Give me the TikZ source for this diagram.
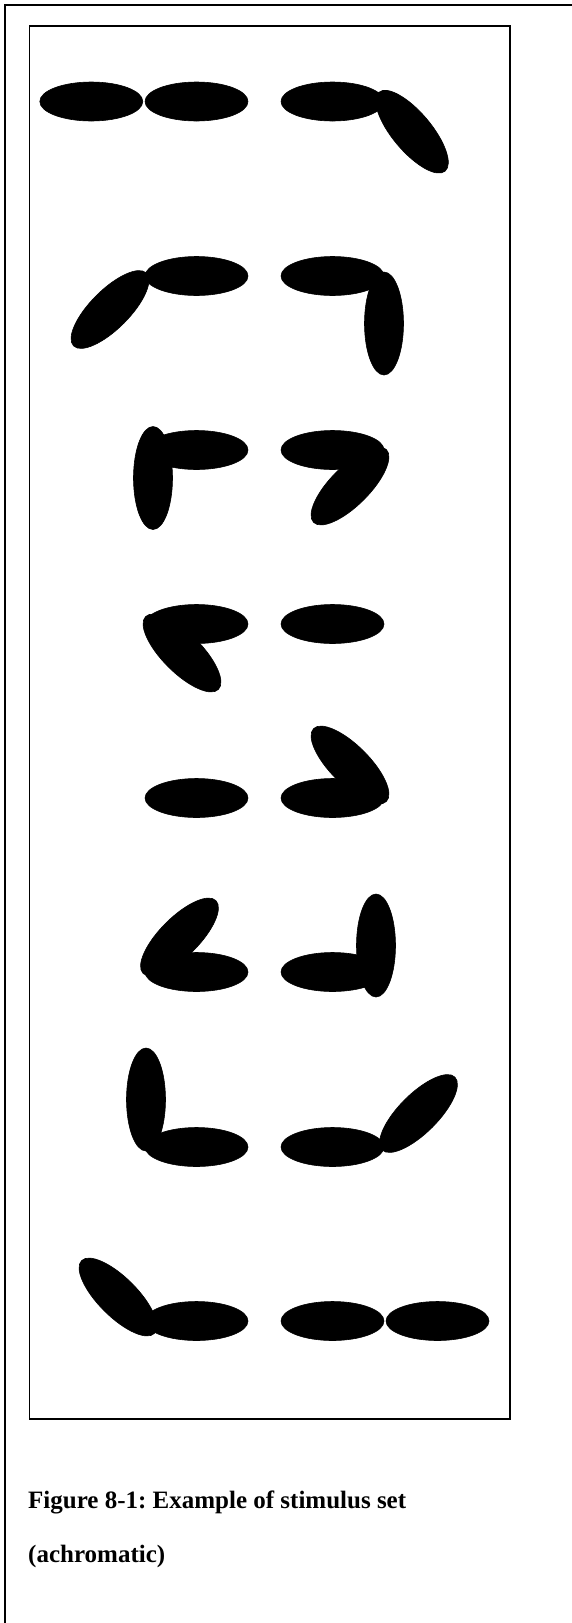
\documentclass[tikz,border=0pt]{standalone}
\usepackage{fontspec}
\setmainfont{Liberation Serif}
\usetikzlibrary{shapes.geometric}
\tikzset{
  limb/.style={ellipse, draw=black, fill=black, line width=0.6pt, inner sep=0pt,
               minimum width=103pt, minimum height=39pt, rotate=#1},
  limb/.default=0,
  frameline/.style={line width=#1, black},
  frameline/.default=1.5pt,
  caption/.style={anchor=base west, inner sep=0pt,
                  font=\fontsize{25}{30}\selectfont\bfseries\frenchspacing},
}

\begin{document}
\begin{tikzpicture}[x=1pt, y=1pt]
  \useasboundingbox (0,0) rectangle (572,-1623);
  \draw[frameline=2pt] (572,-5) -- (5,-5) -- (5,-1623);
  \draw[frameline] (29.3,-26) rectangle (510,-1419);

  % row 1
  \node[limb] (b1l) at (196.5,-101.5) {};
  \node[limb] (t1l) at (91.3,-101.5) {};
  \node[limb] (b1r) at (332.5,-101.5) {};
  \node[limb=-50] (t1r) at (412,-131.7) {};

  % row 2
  \node[limb] (b2l) at (196.5,-276) {};
  \node[limb=45] (t2l) at (110,-309.5) {};
  \node[limb] (b2r) at (332.5,-276) {};
  \node[limb=90] (t2r) at (384,-323.5) {};

  % row 3
  \node[limb=90] (t3l) at (153,-478) {};
  \node[limb] (b3l) at (196.5,-450) {};
  \node[limb] (b3r) at (332.5,-450) {};
  \node[limb=45] (t3r) at (350,-486) {};

  % row 4
  \node[limb=-45] (t4l) at (182,-653) {};
  \node[limb] (b4l) at (196.5,-624) {};
  \node[limb] (b4r) at (332.5,-624) {};

  % row 5
  \node[limb] (b5l) at (196.5,-798) {};
  \node[limb] (b5r) at (332.5,-798) {};
  \node[limb=-45] (t5r) at (350,-765) {};

  % row 6
  \node[limb=45] (t6l) at (179.5,-937) {};
  \node[limb] (b6l) at (196.5,-972) {};
  \node[limb] (b6r) at (332.5,-972) {};
  \node[limb=90] (t6r) at (376,-945.5) {};

  % row 7
  \node[limb=90] (t7l) at (146,-1099.5) {};
  \node[limb] (b7l) at (196.5,-1147) {};
  \node[limb] (b7r) at (332.5,-1147) {};
  \node[limb=45] (t7r) at (418.5,-1113.5) {};

  % row 8
  \node[limb=-45] (t8l) at (118,-1297) {};
  \node[limb] (b8l) at (196.5,-1321) {};
  \node[limb] (b8r) at (332.5,-1321) {};
  \node[limb] (t8r) at (437.5,-1321) {};

  \node[caption] (cap1) at (28,-1508) {Figure 8-1: Example of stimulus set};
  \node[caption] (cap2) at (28,-1562) {(achromatic)};
\end{tikzpicture}
\end{document}
